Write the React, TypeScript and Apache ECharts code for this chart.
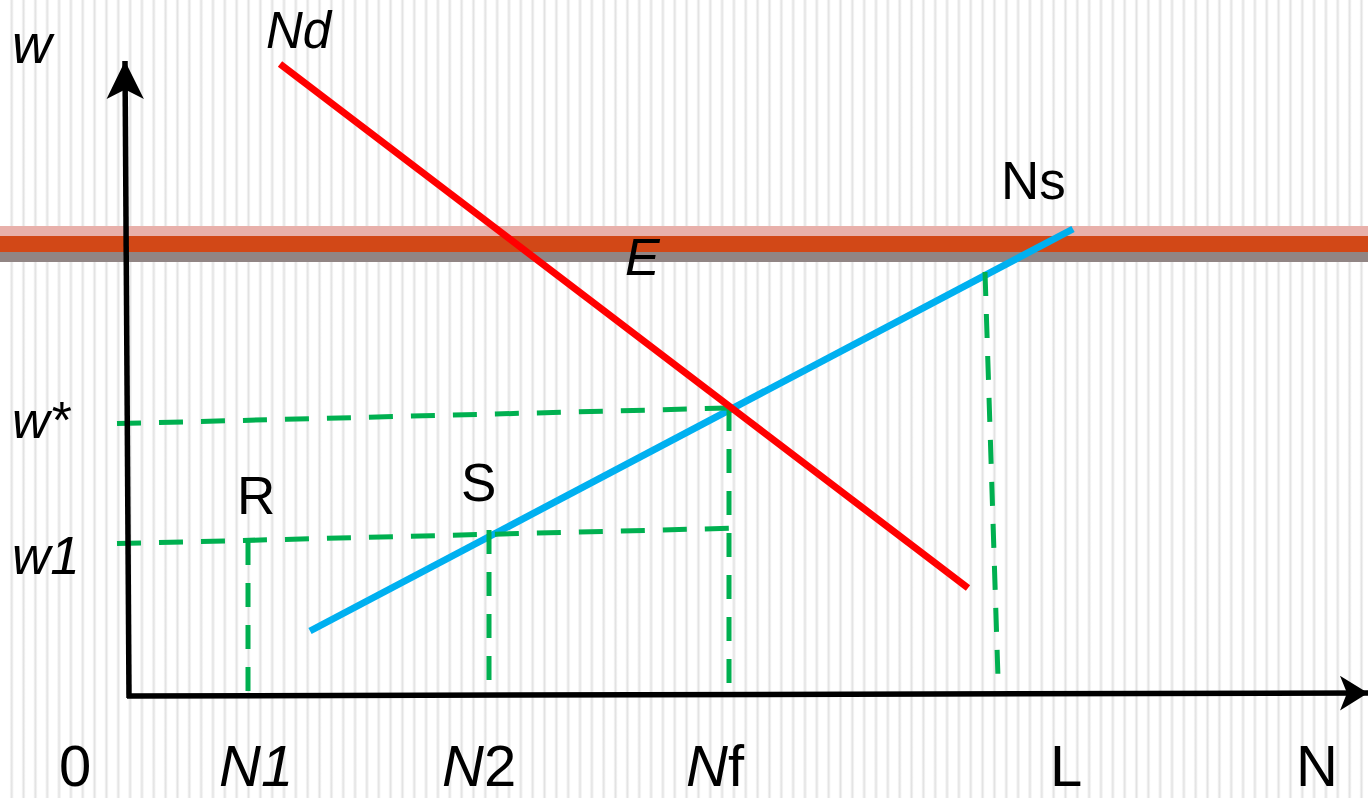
import React, { useEffect, useRef } from "react";
import * as echarts from "echarts";

// Canvas space (pixel-like data space used by hidden value axes)
const X_MAX = 1368;
const Y_MAX = 798;

// Curves
const ndLine = [[280, 64], [968, 588]];
const nsLine = [[310, 631], [1073, 229]];

// Dashed guide lines
const guideWStar = [[117, 423.6], [729, 408]];
const guideW1 = [[117, 543.6], [729, 528.3]];
const guideN1 = [[248, 541], [248, 693]];
const guideN2 = [[489, 530], [489, 680]];
const guideNf = [[729, 407], [729, 686]];
const guideL = [[985, 272], [998, 678]];

// Axes (start, arrow tip)
const yAxisLine = [[129, 698], [125, 61]];
const xAxisLine = [[127, 696], [1368, 693]];

// Horizontal band levels (top, boundaries, bottom)
const bandLevels = [226, 236, 252, 262];
const bandColors = ["#e8b0aa", "#d24817", "#918584"];

// Labels
const labels = [
  { text: "w", x: 12, y: 44, size: 55, italic: true },
  { text: "Nd", x: 266, y: 30, size: 51, italic: true },
  { text: "Ns", x: 1001, y: 180, size: 53, italic: false },
  { text: "E", x: 625, y: 257, size: 52, italic: true },
  { text: "w*", x: 12, y: 420, size: 52, italic: true },
  { text: "w1", x: 12, y: 555, size: 53, italic: true },
  { text: "R", x: 237, y: 495, size: 53, italic: false },
  { text: "S", x: 461, y: 482, size: 53, italic: false },
  { text: "0", x: 59, y: 765.5, size: 58, italic: false },
  { text: "N1", x: 219, y: 765.5, size: 58, italic: true },
  { text: "L", x: 1050, y: 765.5, size: 58, italic: false },
  { text: "N", x: 1296, y: 765.5, size: 58, italic: false },
];
const mixedLabels = [
  { a: "N", b: "2", x: 442, y: 765.5, size: 58 },
  { a: "N", b: "f", x: 686, y: 765.5, size: 58 },
];

const FONT = '"Liberation Sans", Arial, sans-serif';

export default function App() {
  const ref = useRef<HTMLDivElement>(null);

  useEffect(() => {
    if (!ref.current) return;
    const chart = echarts.init(ref.current, null, { renderer: "svg" });

    const stripeFill = new echarts.graphic.LinearGradient(0, 0, 1, 0, [
      { offset: 0, color: "rgba(228,228,228,0.15)" },
      { offset: 0.5, color: "rgba(226,226,226,1)" },
      { offset: 1, color: "rgba(228,228,228,0.15)" },
    ]);
    const stripes: any[] = [];
    for (let k = 0; 11.7 + k * 11.84 < X_MAX + 4; k++) {
      stripes.push({
        type: "rect",
        silent: true,
        z: -1,
        shape: { x: 11.7 + k * 11.84 - 2, y: 0, width: 4, height: Y_MAX },
        style: { fill: stripeFill },
      });
    }

    const textEls: any[] = labels.map((l) => ({
      type: "text",
      silent: true,
      z: 100,
      x: l.x,
      y: l.y,
      style: {
        text: l.text,
        fill: "#000",
        fontSize: l.size,
        fontFamily: FONT,
        fontStyle: l.italic ? "italic" : "normal",
        lineHeight: l.size >= 58 ? 44 : l.size,
        align: "left",
        verticalAlign: "middle",
        textAlign: "left",
        textVerticalAlign: "middle",
      },
    }));
    mixedLabels.forEach((l) => {
      textEls.push({
        type: "text",
        silent: true,
        z: 100,
        x: l.x,
        y: l.y,
        style: {
          text: `{i|${l.a}}{r|${l.b}}`,
          fill: "#000",
          align: "left",
          verticalAlign: "middle",
          textAlign: "left",
          textVerticalAlign: "middle",
          rich: {
            i: { fontSize: l.size, lineHeight: 44, fontFamily: FONT, fontStyle: "italic", fill: "#000" },
            r: { fontSize: l.size, lineHeight: 44, fontFamily: FONT, fontStyle: "normal", fill: "#000" },
          },
        },
      });
    });

    const guide = (data: number[][]) => ({
      type: "line",
      data,
      z: 3,
      silent: true,
      showSymbol: false,
      symbol: "none",
      lineStyle: { color: "#00b050", width: 5, type: [24, 18], cap: "butt" },
    });

    const axisSeries = (line: number[][], size: number[]) => ({
      type: "line",
      data: [],
      silent: true,
      markLine: {
        silent: true,
        z: 10,
        symbol: ["none", "arrow"],
        symbolSize: size,
        label: { show: false },
        emphasis: { disabled: true },
        lineStyle: { color: "#000", width: 5.5, type: "solid", cap: "butt" },
        data: [[{ coord: line[0] }, { coord: line[1] }]],
      },
    });

    const bandAreas = bandColors.map((c, i) => [
      { yAxis: bandLevels[i], itemStyle: { color: c, opacity: 1 } },
      { yAxis: bandLevels[i + 1] },
    ]);

    chart.setOption({
      animation: false,
      backgroundColor: "#ffffff",
      grid: { left: 0, right: 0, top: 0, bottom: 0 },
      xAxis: { type: "value", min: 0, max: X_MAX, show: false },
      yAxis: { type: "value", min: 0, max: Y_MAX, inverse: true, show: false },
      graphic: [...stripes, ...textEls],
      series: [
        {
          type: "line",
          data: [],
          silent: true,
          markArea: {
            silent: true,
            z: 1,
            label: { show: false },
            emphasis: { disabled: true },
            data: bandAreas,
          },
        },
        guide(guideWStar),
        guide(guideW1),
        guide(guideN1),
        guide(guideN2),
        guide(guideNf),
        guide(guideL),
        {
          type: "line",
          data: nsLine,
          z: 2,
          silent: true,
          showSymbol: false,
          symbol: "none",
          lineStyle: { color: "#00b0f0", width: 7, cap: "butt" },
        },
        {
          type: "line",
          data: ndLine,
          z: 4,
          silent: true,
          showSymbol: false,
          symbol: "none",
          lineStyle: { color: "#ff0000", width: 7, cap: "butt" },
        },
        axisSeries(yAxisLine, [28, 38]),
        axisSeries(xAxisLine, [26, 28]),
      ],
    });

    return () => chart.dispose();
  }, []);

  return (
    <div
      ref={ref}
      style={{ position: "absolute", left: 0, top: 0, width: X_MAX, height: Y_MAX }}
    />
  );
}
